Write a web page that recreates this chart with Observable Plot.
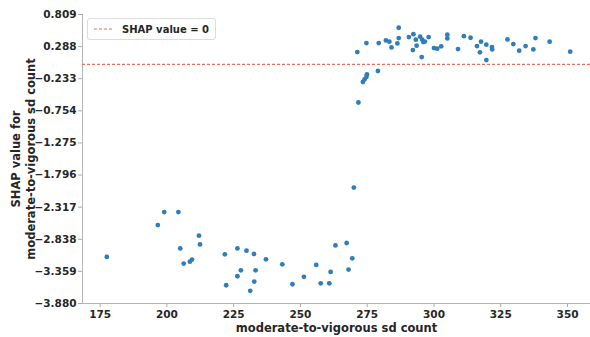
<!DOCTYPE html>
<html>
<head>
<meta charset="utf-8">
<script src="https://cdn.jsdelivr.net/npm/d3@7"></script>
<script src="https://cdn.jsdelivr.net/npm/@observablehq/plot@0.6"></script>
<style>
  html, body { margin: 0; padding: 0; background: #fff; }
  #chart { position: relative; width: 590px; height: 337px; font-family: "DejaVu Sans", sans-serif; }
  .legend {
    position: absolute; left: 87px; top: 18px; height: 20px; padding: 0 6px 0 5px;
    border: 1px solid #dcdcdc; border-radius: 3px; background: rgba(255,255,255,0.85);
    display: flex; align-items: center; gap: 7px;
    font: bold 10px "DejaVu Sans", sans-serif; color: #262626;
  }
  .legend svg { display: block; }
</style>
</head>
<body>
<div id="chart"></div>
<script>
// Moderate-to-vigorous sd count per participant
const mvpaCount = [
  177.5, 199.0, 204.3, 196.6, 212.0, 212.4, 205.0, 206.3, 208.6, 209.4,
  221.7, 226.4, 229.8, 232.6, 237.1, 243.2, 227.7, 233.2, 226.4, 232.7,
  222.2, 231.2, 247.0, 251.3, 255.9, 257.6, 260.8, 261.3, 263.1, 267.3,
  269.4, 268.0, 270.0,
  271.7, 273.4, 274.0, 274.7, 274.9, 279.0,
  271.3, 274.7, 279.3, 282.0, 283.3, 284.1, 286.3, 286.8, 286.8, 290.6,
  292.3, 292.1, 293.2, 293.5, 294.8, 295.6, 296.0, 296.6, 295.4, 298.0,
  300.0, 301.2, 302.7, 305.0, 305.0, 309.0, 311.2, 313.7, 316.1, 317.6,
  317.2, 319.6, 319.6, 321.7, 321.8, 327.5, 329.7, 331.9, 334.3, 338.0,
  337.2, 343.3, 351.0
];
// SHAP contribution of that feature
const shapValue = [
  -3.125, -2.397, -2.397, -2.607, -2.780, -2.921, -2.986, -3.233, -3.201, -3.168,
  -3.082, -2.986, -3.023, -3.076, -3.164, -3.244, -3.341, -3.341, -3.438, -3.524,
  -3.584, -3.674, -3.568, -3.448, -3.254, -3.552, -3.552, -3.367, -2.937, -2.898,
  -3.147, -3.330, -1.999,
  -0.619, -0.286, -0.242, -0.205, -0.161, -0.108,
  0.200, 0.345, 0.345, 0.389, 0.368, 0.275, 0.340, 0.426, 0.594, 0.442,
  0.490, 0.232, 0.400, 0.303, 0.450, 0.400, 0.361, 0.370, 0.119, 0.442,
  0.264, 0.254, 0.292, 0.481, 0.421, 0.248, 0.458, 0.432, 0.296, 0.368,
  0.195, 0.319, 0.070, 0.280, 0.243, 0.405, 0.329, 0.222, 0.296, 0.426,
  0.243, 0.368, 0.206
];
const xTicks = [175, 200, 225, 250, 275, 300, 325, 350];
const yTicks = [0.809, 0.288, -0.233, -0.754, -1.275, -1.796, -2.317, -2.838, -3.359, -3.880];
const xLabel = "moderate-to-vigorous sd count";
const yLabel = "SHAP value for\nmoderate-to-vigorous sd count";
const refLabel = "SHAP value = 0";
const refColor = "#e8705f";

const points = mvpaCount.map((x, i) => ({x, y: shapValue[i]}));
const xDomain = [168.4, 358.6];
const yDomain = [-3.88, 0.809];
const fmt = d => d.toFixed(3).replace("-", "\u2212");

const plot = Plot.plot({
  width: 590,
  height: 337,
  marginLeft: 82,
  marginRight: 0,
  marginTop: 14,
  marginBottom: 34,
  style: {fontFamily: "DejaVu Sans, sans-serif", fontWeight: "bold", fontSize: "10.5px", color: "#262626", background: "#fff"},
  x: {domain: xDomain},
  y: {domain: yDomain},
  marks: [
    Plot.axisX({ticks: xTicks, tickSize: 4, tickPadding: 3, stroke: "#aaa", label: null, fill: "#262626"}),
    Plot.axisY({ticks: yTicks, tickFormat: fmt, tickSize: 4, tickPadding: 2, stroke: "#aaa", label: null, fill: "#262626"}),
    Plot.ruleX([xDomain[0]], {stroke: "#b5b5b5", strokeWidth: 1}),
    Plot.ruleY([yDomain[0]], {stroke: "#b5b5b5", strokeWidth: 1}),
    Plot.ruleY([0], {stroke: refColor, strokeWidth: 1.1, strokeDasharray: "3,2"}),
    Plot.dot(points, {x: "x", y: "y", r: 2.4, fill: "#2f7db9", stroke: "none"}),
    Plot.text([xLabel], {frameAnchor: "bottom", dy: 28, fontSize: 11.5, fontWeight: "bold", fill: "#262626"}),
    Plot.text([yLabel], {frameAnchor: "left", textAnchor: "middle", dx: -60, rotate: -90, lineHeight: 1.3, fontSize: 11.5, fontWeight: "bold", fill: "#262626"})
  ]
});

const chart = document.getElementById("chart");
chart.appendChild(plot);
const legend = document.createElement("div");
legend.className = "legend";
legend.innerHTML = `<svg width="22" height="4"><line x1="1" x2="21" y1="2" y2="2" stroke="${refColor}" stroke-width="1.1" stroke-dasharray="3,2"/></svg><span></span>`;
legend.lastChild.textContent = refLabel;
chart.appendChild(legend);
</script>
</body>
</html>
